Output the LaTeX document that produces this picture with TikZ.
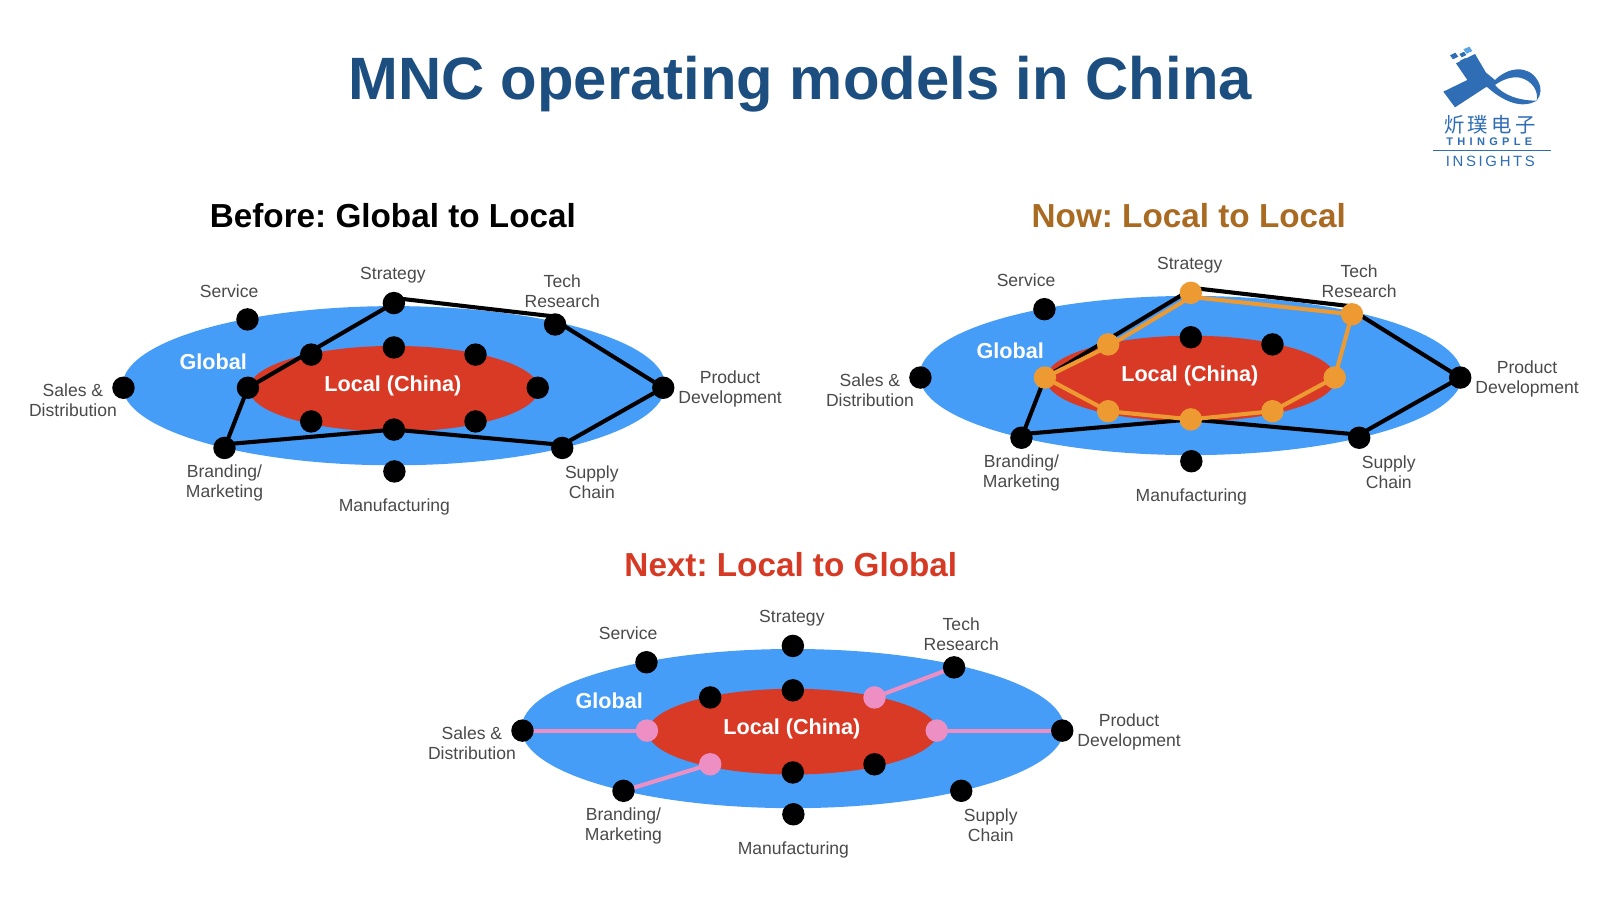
\documentclass[tikz,border=0pt]{standalone}
\usepackage{fontspec}
\setmainfont{Liberation Sans}
\newfontfamily\cjkfont{Noto Sans CJK SC}
\newfontfamily\thingfont[LetterSpace=39]{Liberation Sans}
\newfontfamily\insightfont[LetterSpace=18]{Liberation Sans}
\frenchspacing
\definecolor{globalblue}{HTML}{469DF8}
\definecolor{localred}{HTML}{D93A26}
\definecolor{labelgray}{HTML}{4A4A4A}
\definecolor{titleblue}{HTML}{1C4E80}
\definecolor{nowbrown}{HTML}{A96A22}
\definecolor{nextred}{HTML}{D63A25}
\definecolor{dotorange}{HTML}{EE9A33}
\definecolor{dotpink}{HTML}{EE8FC4}
\definecolor{logoblue}{HTML}{2F6DB5}
\definecolor{logolight}{HTML}{5AA5E6}
\tikzset{
  blackdot/.style={circle,fill=black,inner sep=0pt,minimum size=11pt},
  orangedot/.style={circle,fill=dotorange,inner sep=0pt,minimum size=11pt},
  pinkdot/.style={circle,fill=dotpink,inner sep=0pt,minimum size=11pt},
  lbl/.style={text=labelgray,font=\fontsize{8.6}{9.8}\selectfont,align=center,inner sep=0pt},
  ell/.style={font=\fontsize{10.6}{12}\selectfont\bfseries,text=white,inner sep=0pt},
  head/.style={font=\fontsize{16.3}{18}\selectfont\bfseries,inner sep=0pt},
  blackline/.style={draw=black,line width=2pt,line join=round},
  orangeline/.style={draw=dotorange,line width=2pt,line join=round},
  pinkline/.style={draw=dotpink,line width=2pt},
}
% a model: ellipses, texts; the origin is the centre of the Local ellipse
\newcommand{\modelbase}[1]{%
  \fill[globalblue] (0,-3) ellipse [x radius=266,y radius=78];
  \fill[localred] (0,0) ellipse [x radius=142,y radius=42];
  \node[ell] (gl) at (#1) {Global};
  \node[ell] (lo) at (-1,-2.5) {Local (China)};
  \node[lbl] (tstrategy) at (-1,-111.5) {Strategy};
  \node[lbl] (tservice) at (-161.5,-96) {Service};
  \node[lbl] (ttech) at (165,-95.5) {Tech\\Research};
  \node[lbl] (tproduct) at (329.5,0.5) {Product\\Development};
  \node[lbl] (tsupply) at (194,91.5) {Supply\\Chain};
  \node[lbl] (tmanu) at (0.5,116) {Manufacturing};
  \node[lbl] (tbrand) at (-166,92.5) {Branding/\\Marketing};
  \node[lbl] (tsales) at (-314.5,11.5) {Sales \&\\Distribution};
  \coordinate (st) at (0,-84);
  \coordinate (te) at (158,-63);
  \coordinate (pr) at (264,-1);
  \coordinate (su) at (165,58);
  \coordinate (ma) at (0.5,81);
  \coordinate (br) at (-166,58);
  \coordinate (sa) at (-265,-1);
  \coordinate (se) at (-143.5,-68);
  \coordinate (it) at (0,-40.5);
  \coordinate (iur) at (80,-33.5);
  \coordinate (ir) at (141,-1);
  \coordinate (ilr) at (80,32);
  \coordinate (ib) at (0,40);
  \coordinate (ill) at (-81,32);
  \coordinate (il) at (-143,-1);
  \coordinate (iul) at (-81,-33.5);
  % ends of the black outline, which run a little above the dots' centres
  \coordinate (bst) at (0,-89);
  \coordinate (bte) at (156,-71);
  \coordinate (bteb) at (158,-67);
  \coordinate (bsu) at (165,55);
  \coordinate (bbr) at (-166,54.5);
}
\newcommand{\blackoutline}{%
  \draw[blackline] (bst)--(bte);
  \draw[blackline] (bteb)--(pr)--(bsu)--(ib)--(bbr);
  \draw[blackline] (br)--(il)--(st);
}
\newcommand{\modeldots}[2]{\foreach \p in {#2} \node[#1] (d\p) at (\p) {};}
\begin{document}
\begin{tikzpicture}[x=0.5pt,y=-0.5pt]
\useasboundingbox (0,0) rectangle (1568,882);
\fill[white] (0,0) rectangle (1568,882);
\node[inner sep=0pt,text=titleblue,font=\fontsize{29.3}{32}\selectfont\bfseries] (title) at (784,82.5) {MNC operating models in China};
\node[head,text=black] (h1) at (385,211) {Before: Global to Local};
\node[head,text=nowbrown] (h2) at (1165,211) {Now: Local to Local};
\node[head,text=nextred] (h3) at (775,553) {Next: Local to Global};

% Before
\begin{scope}[shift={(386,381)}]
  \modelbase{-177,-26}
  \blackoutline
  \modeldots{blackdot}{st,te,pr,su,ma,br,sa,se,it,iur,ir,ilr,ib,ill,il,iul}
\end{scope}

% Now
\begin{scope}[shift={(1167,371)}]
  \modelbase{-177,-27}
  \draw[blackline] (bst)--(bte);
  \draw[blackline] (bteb)--(pr)--(bsu)--(ib)--(bbr);
  \draw[blackline] (br)--(il)--([xshift=-1pt,yshift=1pt]st);
  \modeldots{blackdot}{pr,su,ma,br,sa,se,it,iur}
  \draw[orangeline] ([yshift=-2pt]st)--(te)--(ir)--(ilr)--(ib)--(ill)--(il)--([yshift=-1pt]iul)--([yshift=-2pt]st);
  \modeldots{orangedot}{st,te,ir,ilr,ib,ill,il,iul}
\end{scope}

% Next
\begin{scope}[shift={(777,717)}]
  \modelbase{-180,-30}
  \draw[pinkline] (sa)--(il);
  \draw[pinkline] (pr)--(ir);
  \draw[pinkline] (te)--(iur);
  \draw[pinkline] (br)--(ill);
  \modeldots{blackdot}{st,te,pr,su,ma,br,sa,se,it,ilr,ib,iul}
  \modeldots{pinkdot}{iur,ir,ill,il}
\end{scope}

% Logo
\begin{scope}[shift={(1352.4,29.4)},x=0.16333pt,y=-0.16333pt]
  \fill[logoblue] (190,185) -- (262,150) -- (228,100) -- (285,72) -- (318,128) -- (345,150)
     .. controls (385,110) and (445,105) .. (472,150)
     .. controls (486,172) and (484,195) .. (470,212)
     .. controls (476,185) and (458,152) .. (420,143)
     .. controls (395,138) and (365,150) .. (345,165)
     .. controls (370,195) and (415,212) .. (470,212)
     .. controls (425,238) and (370,215) .. (320,170)
     -- (225,232) -- cycle;
  \fill[logolight] (250,58) -- (268,50) -- (277,63) -- (260,71) -- cycle;
  \fill[logoblue] (210,76) -- (226,68) -- (235,80) -- (219,88) -- cycle;
  \fill[logoblue] (238,72) -- (252,65) -- (259,75) -- (245,82) -- cycle;
  \fill[logoblue] (240,92) -- (256,84) -- (265,95) -- (249,103) -- cycle;
  \node[inner sep=0pt,text=logoblue,font=\cjkfont\fontsize{10}{11}\selectfont] (lcjk) at (330,284) {炘\hspace{1.6pt}璞\hspace{1.6pt}电\hspace{1.6pt}子};
  \node[inner sep=0pt,text=logoblue,font=\thingfont\fontsize{5.4}{6}\selectfont\bfseries] (lthing) at (328,335) {THINGPLE};
  \coordinate (rulea) at (158,361);
  \coordinate (ruleb) at (513,361);
  \draw[logoblue,line width=0.4pt] (rulea)--(ruleb);
  \node[inner sep=0pt,text=logoblue,font=\insightfont\fontsize{7.3}{8}\selectfont] (lins) at (331,394) {INSIGHTS};
\end{scope}
\end{tikzpicture}
\end{document}
